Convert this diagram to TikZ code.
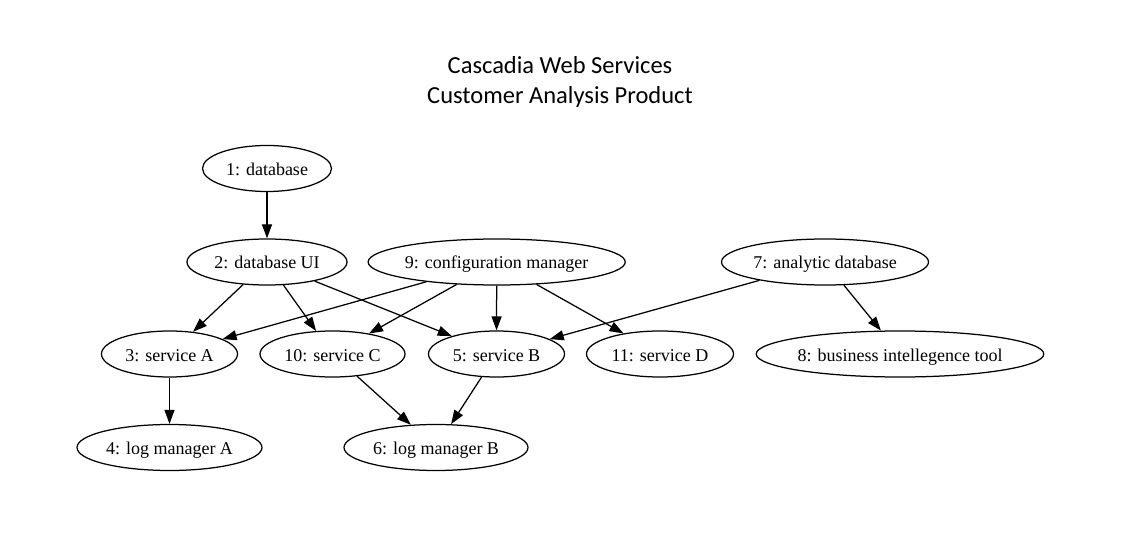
\documentclass[tikz,border=0pt]{standalone}
\usepackage{fontspec}
\setmainfont{Liberation Serif}
\newfontfamily\titlefont{Carlito}
\usetikzlibrary{shapes.geometric,arrows.meta}
\tikzset{
  gnode/.style={draw=black, ellipse, line width=1.25pt, inner ysep=0pt, inner xsep=-0.8pt,
    minimum height=46pt, text height=15pt, text depth=1pt,
    font=\fontsize{18}{20}\selectfont},
  gedge/.style={draw=black, line width=1.25pt, -{Triangle[length=14pt,width=10pt]}},
  titletext/.style={anchor=base, inner sep=0pt, font=\titlefont\fontsize{24.5}{30}\selectfont}
}
\begin{document}
\begin{tikzpicture}[x=1pt,y=-1pt]
\path[use as bounding box, fill=white] (0,0) rectangle (1124,537);
\node[titletext] (t1) at (560,73.3) {Cascadia Web Services};
\node[titletext] (t2) at (560,103.3) {Customer Analysis Product};

\node[gnode, minimum width=129pt] (n1) at (267,168.5) {1: database};
\node[gnode, minimum width=160pt] (n2) at (267,262) {2: database UI};
\node[gnode, minimum width=257pt] (n9) at (496.7,262) {9: configuration manager};
\node[gnode, minimum width=207pt] (n7) at (825,262) {7: analytic database};
\node[gnode, minimum width=136pt] (n3) at (169.5,354) {3: service A};
\node[gnode, minimum width=145pt] (n10) at (332.5,354) {10: service C};
\node[gnode, minimum width=136pt] (n5) at (496.5,354) {5: service B};
\node[gnode, minimum width=147pt] (n11) at (660,354) {11: service D};
\node[gnode, minimum width=285pt] (n8) at (900,354) {8: business intellegence tool};
\node[gnode, minimum width=185pt] (n4) at (169.5,447.5) {4: log manager A};
\node[gnode, minimum width=184pt] (n6) at (436,447.5) {6: log manager B};

\draw[gedge] (n1) -- (n2);
\draw[gedge] (n2) -- (n3);
\draw[gedge] (n2) -- (n10);
\draw[gedge] (n2) -- (n5);
\draw[gedge] (n9) -- (n3);
\draw[gedge] (n9) -- (n10);
\draw[gedge] (n9) -- (n5);
\draw[gedge] (n9) -- (n11);
\draw[gedge] (n7) -- (n5);
\draw[gedge] (n7) -- (n8);
\draw[gedge] (n3) -- (n4);
\draw[gedge] (n10) -- (n6);
\draw[gedge] (n5) -- (n6);
\end{tikzpicture}
\end{document}
